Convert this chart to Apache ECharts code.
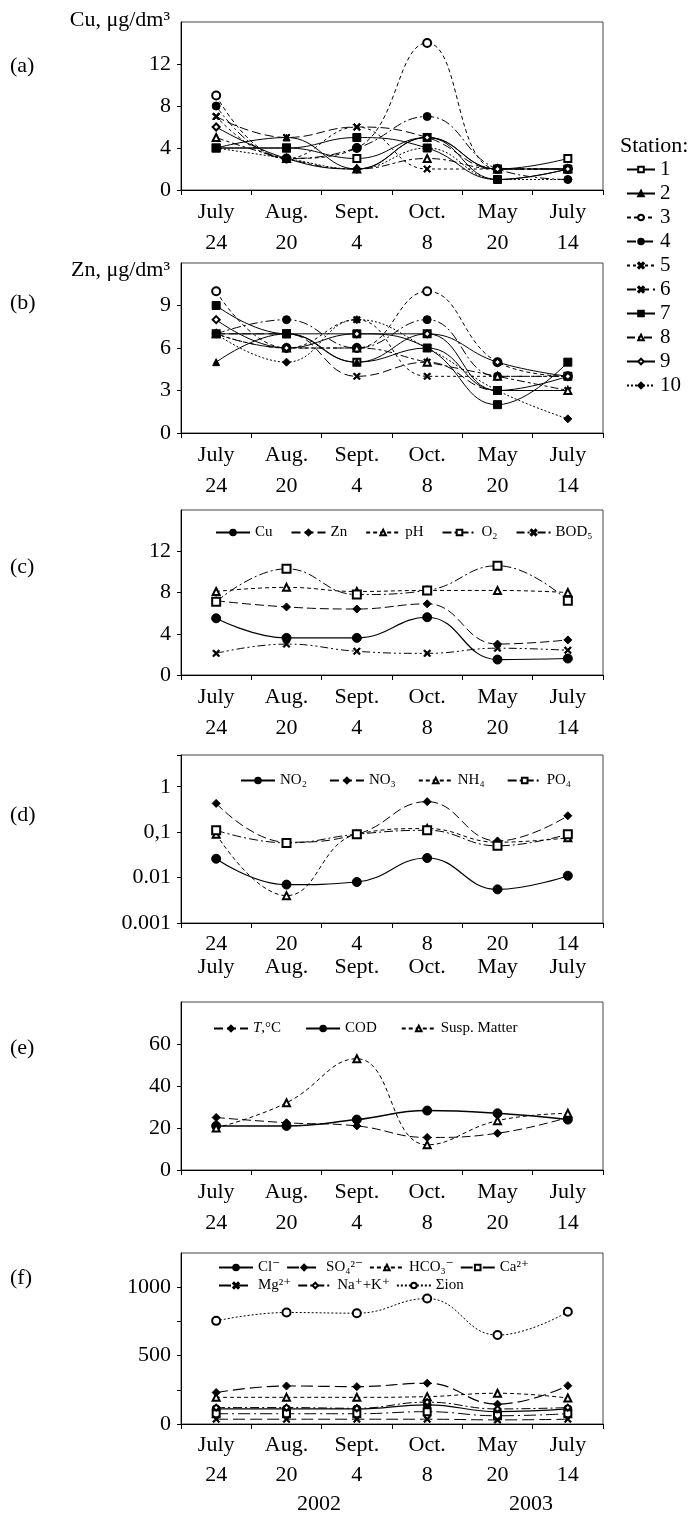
<!DOCTYPE html>
<html><head><meta charset="utf-8">
<script src="https://cdn.jsdelivr.net/npm/echarts@6/dist/echarts.min.js"></script>
<style>html,body{margin:0;padding:0;background:#fff}#c{width:690px;height:1517px}</style>
</head><body><div id="c"></div>
<script>
// ---------- data ----------
const dateLabels = ['July\n24','Aug.\n20','Sept.\n4','Oct.\n8','May\n20','July\n14'];
const dateLabelsD = ['24\nJuly','20\nAug.','4\nSept.','8\nOct.','20\nMay','14\nJuly'];
const stations = ['1','2','3','4','5','6','7','8','9','10'];

// (a) Cu, µg/dm3 per station
const cuStations = [
  [4,4,3,5,2,3],
  [4,5,2,5,1,2],
  [9,3,4,14,2,2],
  [8,3,4,7,2,1],
  [7,3,6,2,2,2],
  [7,5,6,5,2,2],
  [4,4,5,4,1,2],
  [5,3,2,3,2,2],
  [6,3,2,5,2,2],
  [4,3,2,4,1,1]
];
// (b) Zn, µg/dm3 per station
const znStations = [
  [7,7,5,7,3,4],
  [5,7,5,6,3,3],
  [10,6,6,10,5,4],
  [7,8,6,8,4,4],
  [7,6,8,4,4,4],
  [7,7,4,5,3,3],
  [9,7,7,6,2,5],
  [7,6,6,5,4,3],
  [8,6,7,7,5,4],
  [7,5,8,6,3,1]
];
// (c) averages
const cNames = ['Cu','Zn','pH','O₂','BOD₅'];
const cCu  = [5.5,3.6,3.6,5.6,1.5,1.6];
const cZn  = [7.2,6.6,6.4,6.9,3.0,3.4];
const cPH  = [8.1,8.5,8.1,8.2,8.2,8.0];
const cO2  = [7.1,10.3,7.8,8.2,10.6,7.2];
const cBOD = [2.1,3.0,2.3,2.1,2.6,2.4];
// (d) nutrients (log)
const dNames = ['NO₂','NO₃','NH₄','PO₄'];
const dNO2 = [0.026,0.007,0.008,0.027,0.0055,0.011];
const dNO3 = [0.43,0.06,0.09,0.47,0.064,0.23];
const dNH4 = [0.09,0.004,0.09,0.12,0.06,0.075];
const dPO4 = [0.11,0.058,0.09,0.11,0.05,0.09];
// (e)
const eNames = ['T,°C','COD','Susp. Matter'];
const eT    = [25,22.5,21,15.5,17.5,25];
const eCOD  = [21,21,24,28.3,27,24];
const eSusp = [20,32,53,12,23.5,27];
// (f) ions
const fRow1 = ['Cl⁻','SO₄²⁻','HCO₃⁻','Ca²⁺'];
const fRow2 = ['Mg²⁺','Na⁺+K⁺','Σion'];
const fCl   = [110,110,110,140,90,110];
const fSO4  = [230,278,273,298,145,280];
const fHCO3 = [195,195,195,200,225,190];
const fCa   = [75,75,75,90,60,75];
const fMg   = [35,35,35,35,30,35];
const fNaK  = [120,120,115,160,110,120];
const fSum  = [754,815,810,917,650,820];

// ---------- styling ----------
const FONT = '"Liberation Serif","DejaVu Serif",serif';
const X = 'path://M0,1.5L1.5,0L5,3.5L8.5,0L10,1.5L6.5,5L10,8.5L8.5,10L5,6.5L1.5,10L0,8.5L3.5,5Z';
const SOLID = 'solid', DASH=[4,3], LDASH=[9,4], DASHDOT=[9,3,2,3], DASHDOT2=[8,3,2,3,2,3], DOT=[2,2];

function ln(name, data, idx, sym, size, type, width){
  return {type:'line', name, data, xAxisIndex:idx, yAxisIndex:idx, smooth:0.45,
    symbol:sym, symbolSize:size, showSymbol:true,
    lineStyle:{color:'#000', width:width||1, type},
    itemStyle:{color:'#000', borderColor:'#000', borderWidth:1},
    emphasis:{disabled:true}, z:3};
}

const stationStyle = [
  ['emptyRect',7,SOLID],
  ['triangle',7,SOLID],
  ['emptyCircle',8,DASH],
  ['circle',8,DASHDOT],
  [X,7,[3,3]],
  [X,7,LDASH],
  ['rect',8,SOLID],
  ['emptyTriangle',7,[8,3,3,3]],
  ['emptyDiamond',7,SOLID],
  ['diamond',8,DOT]
];

const grids = [
  {top:22, height:168},
  {top:263, height:170},
  {top:510, height:165},
  {top:755, height:168},
  {top:1002, height:168},
  {top:1253, height:171}
].map(g=>Object.assign({left:181, right:87, show:true, borderColor:'#444', borderWidth:1, containLabel:false}, g));

function xAx(i, labels, lh, margin){
  return {type:'category', gridIndex:i, data:labels, boundaryGap:true,
    axisLine:{lineStyle:{color:'#000', width:1}},
    axisTick:{show:true, length:5, lineStyle:{color:'#000'}},
    axisLabel:{interval:0, fontFamily:FONT, fontSize:22, color:'#000', lineHeight:lh, margin:margin},
    splitLine:{show:false}};
}
function yAx(i, min, max, interval, fmt){
  return {type:'value', gridIndex:i, min, max, interval,
    axisLine:{show:true, lineStyle:{color:'#000', width:1}},
    axisTick:{show:true, length:4, lineStyle:{color:'#000'}},
    axisLabel:{fontFamily:FONT, fontSize:22, color:'#000', margin:10, showMaxLabel:false, formatter:fmt},
    splitLine:{show:false}};
}

const series = [];
stations.forEach((s,k)=>{
  const st = stationStyle[k];
  series.push(ln(s, cuStations[k], 0, st[0], st[1], st[2]));
});
stations.forEach((s,k)=>{
  const st = stationStyle[k];
  series.push(ln(s, znStations[k], 1, st[0], st[1], st[2]));
});
series.push(ln(cNames[0], cCu, 2, 'circle', 9, SOLID, 1.2));
series.push(ln(cNames[1], cZn, 2, 'diamond', 8, LDASH));
series.push(ln(cNames[2], cPH, 2, 'emptyTriangle', 7, DASH));
series.push(ln(cNames[3], cO2, 2, 'emptyRect', 8, DASHDOT));
series.push(ln(cNames[4], cBOD, 2, X, 7, DASHDOT2));

series.push(ln(dNames[0], dNO2, 3, 'circle', 9, SOLID, 1.2));
series.push(ln(dNames[1], dNO3, 3, 'diamond', 8, LDASH));
series.push(ln(dNames[2], dNH4, 3, 'emptyTriangle', 7, DASH));
series.push(ln(dNames[3], dPO4, 3, 'emptyRect', 8, DASHDOT));

series.push(ln(eNames[0], eT, 4, 'diamond', 8, LDASH));
series.push(ln(eNames[1], eCOD, 4, 'circle', 9, SOLID, 1.5));
series.push(ln(eNames[2], eSusp, 4, 'emptyTriangle', 7, DASH));

series.push(ln(fRow1[0], fCl, 5, 'circle', 8, SOLID, 1.2));
series.push(ln(fRow1[1], fSO4, 5, 'diamond', 8, [12,5], 1.2));
series.push(ln(fRow1[2], fHCO3, 5, 'emptyTriangle', 7, DASH));
series.push(ln(fRow1[3], fCa, 5, 'emptyRect', 7, [12,4,2,4]));
series.push(ln(fRow2[0], fMg, 5, X, 7, [12,5]));
series.push(ln(fRow2[1], fNaK, 5, 'emptyDiamond', 6, DASHDOT));
series.push(ln(fRow2[2], fSum, 5, 'emptyCircle', 8, DOT));

const legText = {fontFamily:FONT, fontSize:15, color:'#000'};
function leg(data, left, top, gap, extra){
  return Object.assign({data, left, top, itemWidth:34, itemHeight:7, itemGap:gap, padding:0,
    selectedMode:false, textStyle:Object.assign({}, legText), inactiveColor:'#000'}, extra||{});
}

const logFmt = v => {
  const l = Math.log10(v);
  if (Math.abs(l - Math.round(l)) > 1e-6) return '';
  const r = Math.round(l);
  return {0:'1', '-1':'0,1', '-2':'0.01', '-3':'0.001'}[r] || '';
};

const option = {
  backgroundColor:'#fff',
  animation:false,
  grid:grids,
  xAxis:[xAx(0,dateLabels,31,7), xAx(1,dateLabels,31,7), xAx(2,dateLabels,31,7),
         xAx(3,dateLabelsD,23,10), xAx(4,dateLabels,31,7), xAx(5,dateLabels,30,6)],
  yAxis:[yAx(0,0,16,4), yAx(1,0,12,3), yAx(2,0,16,4),
         {type:'log', gridIndex:3, min:0.001, max:5, logBase:10,
          axisLine:{show:true, lineStyle:{color:'#000', width:1}},
          axisTick:{show:true, length:4, lineStyle:{color:'#000'}},
          axisLabel:{fontFamily:FONT, fontSize:22, color:'#000', margin:10, formatter:logFmt},
          splitLine:{show:false}, minorTick:{show:false}},
         yAx(4,0,80,20),
         yAx(5,0,1250,250, v => (v % 500 === 0 ? String(v) : ''))],
  legend:[
    {data:stations, orient:'vertical', left:626, top:159, itemWidth:28, itemHeight:7, itemGap:3, padding:0,
     selectedMode:false, textStyle:{fontFamily:FONT, fontSize:21, color:'#000', lineHeight:20}},
    leg(cNames, 215, 525, 18),
    leg(dNames, 240, 773, 22),
    leg(eNames, 213, 1021, 24, {formatter: n => n === 'T,°C' ? '{i|T},°C' : n,
        textStyle:Object.assign({}, legText, {rich:{i:{fontFamily:FONT, fontSize:15, fontStyle:'italic', color:'#000'}}})}),
    leg(fRow1, 218, 1260, 6, {textStyle:Object.assign({}, legText, {width:56})}),
    leg(fRow2, 218, 1278, 6, {textStyle:Object.assign({}, legText, {width:56})})
  ],
  graphic:[
    {type:'text', left:10, top:55, style:{text:'(a)', font:'22px '+FONT, fill:'#000'}},
    {type:'text', left:10, top:292, style:{text:'(b)', font:'22px '+FONT, fill:'#000'}},
    {type:'text', left:10, top:556, style:{text:'(c)', font:'22px '+FONT, fill:'#000'}},
    {type:'text', left:10, top:804, style:{text:'(d)', font:'22px '+FONT, fill:'#000'}},
    {type:'text', left:10, top:1037, style:{text:'(e)', font:'22px '+FONT, fill:'#000'}},
    {type:'text', left:10, top:1267, style:{text:'(f)', font:'22px '+FONT, fill:'#000'}},
    {type:'text', right:520, top:9, style:{text:'Cu, μg/dm³', font:'22px '+FONT, fill:'#000'}},
    {type:'text', right:520, top:259, style:{text:'Zn, μg/dm³', font:'22px '+FONT, fill:'#000'}},
    {type:'text', left:620, top:135, style:{text:'Station:', font:'22px '+FONT, fill:'#000'}},
    {type:'text', left:297, top:1493, style:{text:'2002', font:'22px '+FONT, fill:'#000'}},
    {type:'text', left:509, top:1493, style:{text:'2003', font:'22px '+FONT, fill:'#000'}}
  ],
  series
};
const chart = echarts.init(document.getElementById('c'), null, {renderer:'canvas'});
chart.setOption(option);
</script></body></html>
